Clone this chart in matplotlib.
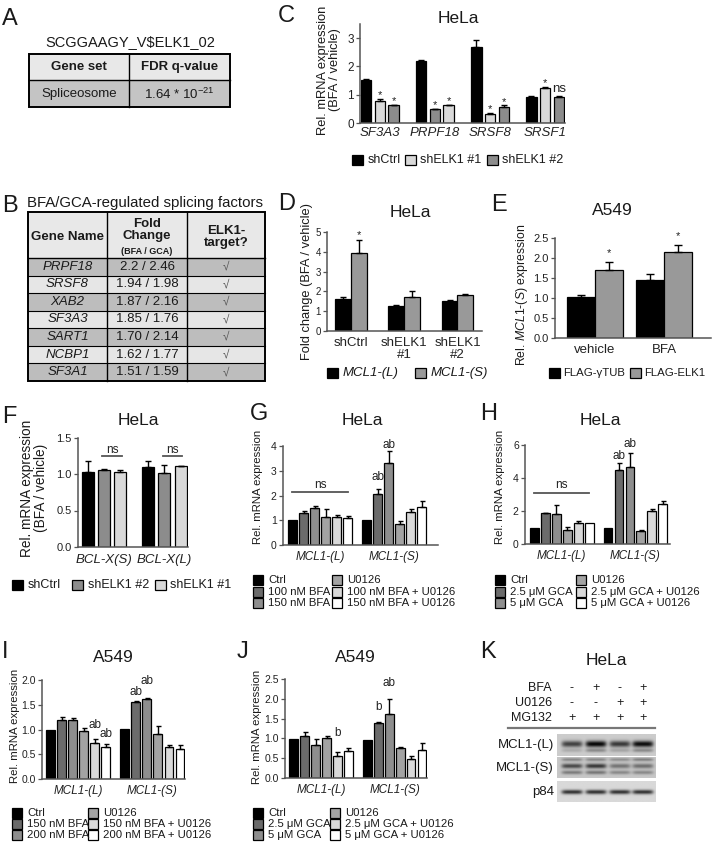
import numpy as np
import matplotlib
matplotlib.use('Agg')
import matplotlib.pyplot as plt
from matplotlib.patches import Rectangle

plt.rcParams['font.family'] = ['Liberation Sans', 'DejaVu Sans']
plt.rcParams['mathtext.fontset'] = 'custom'
plt.rcParams['mathtext.rm'] = 'Liberation Sans'
plt.rcParams['mathtext.it'] = 'Liberation Sans:italic'
plt.rcParams['mathtext.bf'] = 'Liberation Sans:bold'

# ------------------------------------------------------------------ data
# Panel A
a_title = r"SCGGAAGY_V\$ELK1_02"
a_header = ["Gene set", "FDR q-value"]
a_row = ["Spliceosome", r"1.64 * 10$^{-21}$"]

# Panel B
b_title = "BFA/GCA-regulated splicing factors"
b_genes = ["PRPF18", "SRSF8", "XAB2", "SF3A3", "SART1", "NCBP1", "SF3A1"]
b_fold = ["2.2 / 2.46", "1.94 / 1.98", "1.87 / 2.16", "1.85 / 1.76",
          "1.70 / 2.14", "1.62 / 1.77", "1.51 / 1.59"]
b_target = ["\u221a"] * 7

# Panel C
c_genes = ["SF3A3", "PRPF18", "SRSF8", "SRSF1"]
c_series = ["shCtrl", "shELK1 #1", "shELK1 #2"]
c_shctrl = [1.52, 2.19, 2.68, 0.93]
c_shctrl_err = [0.02, 0.05, 0.27, 0.02]
c_sh1 = [0.78, 0.63, 0.32, 1.22]
c_sh1_err = [0.08, 0.02, 0.03, 0.05]
c_sh2 = [0.62, 0.48, 0.57, 0.93]
c_sh2_err = [0.02, 0.02, 0.05, 0.02]
c_order = [[0, 1, 2], [0, 2, 1], [0, 1, 2], [0, 1, 2]]
c_marks_sh1 = ["*", "*", "*", "*"]
c_marks_sh2 = ["*", "*", "*", "ns"]

# Panel D
d_groups = ["shCtrl", "shELK1\n#1", "shELK1\n#2"]
d_series = ["MCL1-(L)", "MCL1-(S)"]
d_L = [1.63, 1.25, 1.50]
d_L_err = [0.07, 0.05, 0.07]
d_S = [3.95, 1.72, 1.80]
d_S_err = [0.65, 0.28, 0.05]
d_marks_S = ["*", "", ""]

# Panel E
e_groups = ["vehicle", "BFA"]
e_series = ["FLAG-\u03b3TUB", "FLAG-ELK1"]
e_tub = [1.03, 1.46]
e_tub_err = [0.04, 0.13]
e_elk = [1.70, 2.15]
e_elk_err = [0.20, 0.17]
e_marks_elk = ["*", "*"]

# Panel F
f_groups = ["BCL-X(S)", "BCL-X(L)"]
f_series = ["shCtrl", "shELK1 #2", "shELK1 #1"]
f_ctrl = [1.03, 1.09]
f_ctrl_err = [0.15, 0.09]
f_sh2 = [1.06, 1.02]
f_sh2_err = [0.01, 0.10]
f_sh1 = [1.03, 1.11]
f_sh1_err = [0.03, 0.005]
f_ns_level = 1.24

# Panels G-J
iso_groups = ["MCL1-(L)", "MCL1-(S)"]
g_series = ["Ctrl", "100 nM BFA", "150 nM BFA", "U0126",
            "100 nM BFA + U0126", "150 nM BFA + U0126"]
g_L = [1.00, 1.30, 1.50, 1.14, 1.13, 1.10]
g_L_err = [0, 0.08, 0.08, 0.30, 0.07, 0.07]
g_S = [1.00, 2.05, 3.32, 0.85, 1.35, 1.55]
g_S_err = [0, 0.20, 0.47, 0.12, 0.09, 0.22]
g_marks = [(1, 1, "ab"), (1, 2, "ab")]
g_ns_level = 2.15

h_series = ["Ctrl", "2.5 \u03bcM GCA", "5 \u03bcM GCA", "U0126",
            "2.5 \u03bcM GCA + U0126", "5 \u03bcM GCA + U0126"]
h_L = [1.00, 1.86, 1.80, 0.85, 1.25, 1.25]
h_L_err = [0, 0.04, 0.56, 0.16, 0.12, 0.0]
h_S = [1.00, 4.48, 4.69, 0.79, 2.02, 2.42]
h_S_err = [0, 0.41, 0.81, 0.06, 0.08, 0.20]
h_marks = [(1, 1, "ab"), (1, 2, "ab")]
h_ns_level = 3.11

i_series = ["Ctrl", "150 nM BFA", "200 nM BFA", "U0126",
            "150 nM BFA + U0126", "200 nM BFA + U0126"]
i_L = [0.99, 1.19, 1.20, 0.96, 0.73, 0.65]
i_L_err = [0, 0.07, 0.03, 0.07, 0.08, 0.06]
i_S = [1.01, 1.55, 1.61, 0.90, 0.65, 0.61]
i_S_err = [0, 0.02, 0.02, 0.17, 0.03, 0.08]
i_marks = [(0, 4, "ab"), (0, 5, "ab"), (1, 1, "ab"), (1, 2, "ab")]

j_series = h_series
j_L = [0.99, 1.07, 0.84, 1.01, 0.56, 0.69]
j_L_err = [0, 0.10, 0.14, 0.04, 0.09, 0.08]
j_S = [0.96, 1.38, 1.62, 0.76, 0.47, 0.70]
j_S_err = [0, 0.03, 0.37, 0.02, 0.08, 0.18]
j_marks = [(0, 4, "b"), (1, 1, "b"), (1, 2, "ab")]

# Panel K (western blot)
k_rows = ["BFA", "U0126", "MG132"]
k_bfa = ["-", "+", "-", "+"]
k_u0126 = ["-", "-", "+", "+"]
k_mg132 = ["+", "+", "+", "+"]
k_blots = ["MCL1-(L)", "MCL1-(S)", "p84"]
k_L_main = [0.55, 0.78, 0.58, 0.76]
k_L_low = [0.12, 0.25, 0.15, 0.25]
k_S_up = [0.25, 0.25, 0.22, 0.28]
k_S_main = [0.50, 0.57, 0.33, 0.35]
k_S_low = [0.30, 0.32, 0.25, 0.25]
k_p84 = [0.66, 0.66, 0.66, 0.66]

# ------------------------------------------------------------------ styles
W, H = 712, 844
fig = plt.figure(figsize=(W / 100, H / 100), dpi=100)
AX_COL = '#555555'
six_colors = ['#000000', '#6b6b6b', '#8e8e8e', '#a3a3a3', '#d9d9d9', '#ffffff']
LIGHT, MID = '#d9d9d9', '#8c8c8c'


def add_ax(l, r, y0, ytop):
    return fig.add_axes([l / W, 1 - y0 / H, (r - l) / W, (y0 - ytop) / H])


def style_ax(ax, xlim, ylim, yticks, fmt=None, tfs=7.5):
    ax.set_xlim(*xlim)
    ax.set_ylim(*ylim)
    for s in ['top', 'right']:
        ax.spines[s].set_visible(False)
    for s in ['left', 'bottom']:
        ax.spines[s].set_color(AX_COL)
        ax.spines[s].set_linewidth(1.1)
    ax.set_yticks(yticks)
    if fmt:
        ax.set_yticklabels([fmt.format(t) for t in yticks])
    ax.tick_params(axis='y', direction='out', length=3, width=0.9,
                   color=AX_COL, labelsize=tfs, pad=1.5, labelcolor='#222222')
    ax.tick_params(axis='x', length=0, labelsize=9, labelcolor='#222222')
    ax.patch.set_alpha(0)


def bar_err(ax, x, v, e, color, width, cs):
    ax.bar(x, v, width, color=color, edgecolor='k', linewidth=0.9, zorder=2)
    if e > 0:
        ax.errorbar([x], [v], yerr=[[0], [e]], fmt='none', ecolor='k',
                    elinewidth=1.0, capsize=cs, capthick=1.0, zorder=3)


def mark(ax, x, ytop, txt, off, fs=8):
    ax.annotate(txt, (x, ytop), xytext=(0, off), textcoords='offset points',
                ha='center', va='baseline', fontsize=fs, color='#222222',
                annotation_clip=False)


def six_panel(ax, L, Le, S, Se, marks, offs, ns_level=None, ns_off=2.5):
    offsets = [(k - 2.5) * 0.149 for k in range(6)]
    vals = [L, S]
    errs = [Le, Se]
    for g in range(2):
        for k in range(6):
            bar_err(ax, g + offsets[k], vals[g][k], errs[g][k], six_colors[k], 0.12, 1.8)
    for (g, k, txt), off in zip(marks, offs):
        mark(ax, g + offsets[k], vals[g][k] + errs[g][k], txt, off, fs=8.5)
    if ns_level is not None:
        ax.plot([offsets[0], offsets[5]], [ns_level, ns_level], color=AX_COL,
                lw=1.3, clip_on=False)
        mark(ax, 0, ns_level, "ns", ns_off, fs=8.5)
    ax.set_xticks([0, 1])
    ax.set_xticklabels(iso_groups, fontstyle='italic', fontsize=8.5)
    ax.tick_params(axis='x', pad=4)


# ------------------------------------------------------------------ C
axC = add_ax(360, 565, 123, 24)
c_vals = [c_shctrl, c_sh1, c_sh2]
c_errs = [c_shctrl_err, c_sh1_err, c_sh2_err]
c_cols = ['#000000', LIGHT, MID]
c_marks = [None, c_marks_sh1, c_marks_sh2]
c_off = [-0.25, 0.0, 0.25]
for g in range(len(c_genes)):
    for pos, s in enumerate(c_order[g]):
        x = g + c_off[pos]
        bar_err(axC, x, c_vals[s][g], c_errs[s][g], c_cols[s], 0.19, 2.5)
        if c_marks[s] is not None:
            m = c_marks[s][g]
            mark(axC, x, c_vals[s][g] + c_errs[s][g], m,
                 3.0 if m == "ns" else 0.5, fs=9.5 if m == "ns" else 8)
style_ax(axC, (-0.36, 3.36), (0, 3.5), [0, 1, 2, 3], tfs=8.5)
axC.set_xticks(range(len(c_genes)))
axC.set_xticklabels(c_genes, fontstyle='italic', fontsize=9.5)
axC.tick_params(axis='x', pad=3)

# ------------------------------------------------------------------ D
axD = add_ax(327, 482, 331, 232)
for g in range(3):
    bar_err(axD, g - 0.15, d_L[g], d_L_err[g], '#000000', 0.3, 2.5)
    bar_err(axD, g + 0.15, d_S[g], d_S_err[g], '#999999', 0.3, 2.5)
    if d_marks_S[g]:
        mark(axD, g + 0.15, d_S[g] + d_S_err[g], d_marks_S[g], 1.0)
style_ax(axD, (-0.45, 2.46), (0, 5), [0, 1, 2, 3, 4, 5], tfs=7)
axD.set_xticks(range(3))
axD.set_xticklabels(d_groups, linespacing=1.1, fontsize=9.5)
axD.tick_params(axis='x', pad=4)

# ------------------------------------------------------------------ E
axE = add_ax(555, 711, 338, 238)
for g in range(2):
    bar_err(axE, g - 0.2, e_tub[g], e_tub_err[g], '#000000', 0.4, 3)
    bar_err(axE, g + 0.2, e_elk[g], e_elk_err[g], '#999999', 0.4, 3)
    if e_marks_elk[g]:
        mark(axE, g + 0.2, e_elk[g] + e_elk_err[g], e_marks_elk[g], 4.2)
style_ax(axE, (-0.57, 1.67), (0, 2.5), [0, 0.5, 1.0, 1.5, 2.0, 2.5], "{:.1f}", tfs=8)
axE.set_xticks(range(2))
axE.set_xticklabels(e_groups, fontsize=9.5)
axE.tick_params(axis='x', pad=4)

# ------------------------------------------------------------------ F
axF = add_ax(78, 188, 547, 437.5)
f_vals = [f_ctrl, f_sh2, f_sh1]
f_errs = [f_ctrl_err, f_sh2_err, f_sh1_err]
f_cols = ['#000000', MID, LIGHT]
f_off = [-0.267, 0.0, 0.267]
for g in range(2):
    for s in range(3):
        bar_err(axF, g + f_off[s], f_vals[s][g], f_errs[s][g], f_cols[s], 0.2, 2.5)
    axF.plot([g + f_off[1] - 0.03, g + f_off[2] + 0.03], [f_ns_level] * 2,
             color=AX_COL, lw=1.3, clip_on=False)
    mark(axF, g + (f_off[1] + f_off[2]) / 2, f_ns_level, "ns", 2.2, fs=8.5)
style_ax(axF, (-0.43, 1.39), (0, 1.5), [0, 0.5, 1.0, 1.5], "{:.1f}", tfs=8)
axF.set_xticks(range(2))
axF.set_xticklabels(f_groups, fontstyle='italic', fontsize=9.5)
axF.tick_params(axis='x', pad=5)

# ------------------------------------------------------------------ G, H, I, J
axG = add_ax(283, 438, 545, 446)
style_ax(axG, (-0.5, 1.59), (0, 4), [0, 1, 2, 3, 4])
six_panel(axG, g_L, g_L_err, g_S, g_S_err, g_marks, [6.5, 2.0], g_ns_level, 3.0)

axH = add_ax(525, 670, 544, 445)
style_ax(axH, (-0.5, 1.47), (0, 6), [0, 2, 4, 6])
six_panel(axH, h_L, h_L_err, h_S, h_S_err, h_marks, [3.0, 4.3], h_ns_level, 3.2)

axI = add_ax(42, 185, 779, 680)
style_ax(axI, (-0.49, 1.44), (0, 2.0), [0, 0.5, 1.0, 1.5, 2.0], "{:.1f}")
six_panel(axI, i_L, i_L_err, i_S, i_S_err, i_marks, [8.0, 5.0, 4.3, 10.0])

axJ = add_ax(285, 427, 778, 679)
style_ax(axJ, (-0.49, 1.44), (0, 2.5), [0, 0.5, 1.0, 1.5, 2.0, 2.5], "{:.1f}")
six_panel(axJ, j_L, j_L_err, j_S, j_S_err, j_marks, [12.0, 8.6, 9.4])

# ------------------------------------------------------------------ overlay (pixel coords)
ov = fig.add_axes([0, 0, 1, 1])
ov.set_xlim(0, W)
ov.set_ylim(H, 0)
ov.axis('off')
TXT = '#1a1a1a'

# panel letters
for lab, x, y in [("A", 2, 25), ("C", 278, 22), ("B", 2, 212), ("D", 278, 210),
                  ("E", 491, 211), ("F", 2, 423), ("G", 250, 420), ("H", 480, 420),
                  ("I", 2, 658), ("J", 237, 658), ("K", 480, 658)]:
    ov.text(x, y, lab, fontsize=17, ha='left', va='baseline', color=TXT)

# titles
for t, x, y in [("HeLa", 458, 23), ("HeLa", 410, 217), ("A549", 612, 215),
                ("HeLa", 138, 425), ("HeLa", 362, 425), ("HeLa", 600, 425),
                ("A549", 113, 662), ("A549", 355, 662), ("HeLa", 606, 665)]:
    ov.text(x, y, t, fontsize=12.5, ha='center', va='baseline', color=TXT)

# y labels
for t, x, y, fs in [("Rel. mRNA expression\n(BFA / vehicle)", 329, 70, 9.3),
                    ("Fold change (BFA / vehicle)", 307, 281, 9.3),
                    (r"Rel. $\mathit{MCL1}$-$\mathit{(S)}$ expression", 522, 295, 8.8),
                    ("Rel. mRNA expression\n(BFA / vehicle)", 34, 488, 9.8),
                    ("Rel. mRNA expression", 258, 487, 8.2),
                    ("Rel. mRNA expression", 500, 487, 8.2),
                    ("Rel. mRNA expression", 15, 726, 8.2),
                    ("Rel. mRNA expression", 257, 727, 8.2)]:
    ov.text(x, y, t, fontsize=fs, rotation=90, ha='center', va='center',
            color=TXT, linespacing=1.05)


def legend_row(xs, y, labels, colors, fs=9, size=10.5, gap=5, italic=False):
    for x, lab, c in zip(xs, labels, colors):
        ov.add_patch(Rectangle((x, y - size / 2), size, size, facecolor=c,
                               edgecolor='k', linewidth=0.9))
        ov.text(x + size + gap, y, lab, fontsize=fs, va='center', ha='left',
                color=TXT, fontstyle='italic' if italic else 'normal')


legend_row([352, 405, 487], 160, c_series, ['#000000', LIGHT, MID])
legend_row([327, 415], 373, d_series, ['#000000', '#999999'], italic=True, fs=9.5)
legend_row([549, 630], 373, e_series, ['#000000', '#999999'], fs=8.2, gap=3.5)
legend_row([12, 72, 155], 585, f_series, ['#000000', MID, LIGHT], fs=9)


def legend_six(x1, x2, ys, labels):
    for k in range(3):
        legend_row([x1], ys[k], [labels[k]], [six_colors[k]], fs=8.2, size=10, gap=5)
        legend_row([x2], ys[k], [labels[k + 3]], [six_colors[k + 3]], fs=8.2, size=10, gap=5)


legend_six(253, 332, [580, 592, 603], g_series)
legend_six(495, 576, [580, 592, 603], h_series)
legend_six(12, 88, [813, 824, 835], i_series)
legend_six(253, 330, [813, 824, 835], j_series)

# ---- table A
ov.text(130, 42, a_title, fontsize=10.5, ha='center', va='center', color=TXT)
ax0, ax1, axm = 29, 230, 129
ov.add_patch(Rectangle((ax0, 54), ax1 - ax0, 26, facecolor='#e8e8e8', edgecolor='none'))
ov.add_patch(Rectangle((ax0, 80), ax1 - ax0, 27, facecolor='#c4c4c4', edgecolor='none'))
ov.add_patch(Rectangle((ax0, 54), ax1 - ax0, 53, facecolor='none', edgecolor='k', linewidth=1.4))
ov.plot([ax0, ax1], [80, 80], color='k', lw=1.0)
ov.plot([axm, axm], [54, 107], color='k', lw=1.0)
ov.text((ax0 + axm) / 2, 67, a_header[0], fontsize=9.5, fontweight='bold', ha='center', va='center', color=TXT)
ov.text((axm + ax1) / 2, 67, a_header[1], fontsize=9.5, fontweight='bold', ha='center', va='center', color=TXT)
ov.text((ax0 + axm) / 2, 94, a_row[0], fontsize=9.5, ha='center', va='center', color=TXT)
ov.text((axm + ax1) / 2, 94, a_row[1], fontsize=9.5, ha='center', va='center', color=TXT)

# ---- table B
ov.text(27, 203, b_title, fontsize=10.8, ha='left', va='center', color=TXT)
bx = [28, 107, 187, 265]
by0, byh = 212, 258
rh = (381 - byh) / len(b_genes)
ov.add_patch(Rectangle((bx[0], by0), bx[3] - bx[0], byh - by0, facecolor='#e8e8e8', edgecolor='none'))
for r in range(len(b_genes)):
    top = byh + r * rh
    fc = '#bdbdbd' if r % 2 == 0 else '#e6e6e6'
    ov.add_patch(Rectangle((bx[0], top), bx[3] - bx[0], rh, facecolor=fc, edgecolor='none'))
    ov.plot([bx[0], bx[3]], [top, top], color='k', lw=1.0 if r == 0 else 0.8)
    cy = top + rh / 2
    ov.text((bx[0] + bx[1]) / 2, cy, b_genes[r], fontsize=9.5, fontstyle='italic', ha='center', va='center', color=TXT)
    ov.text((bx[1] + bx[2]) / 2, cy, b_fold[r], fontsize=9.5, ha='center', va='center', color=TXT)
    ov.text((bx[2] + bx[3]) / 2, cy, b_target[r], fontsize=8.5, ha='center', va='center', color='#555555')
for xv in bx[1:3]:
    ov.plot([xv, xv], [by0, 381], color='k', lw=1.0)
ov.add_patch(Rectangle((bx[0], by0), bx[3] - bx[0], 381 - by0, facecolor='none', edgecolor='k', linewidth=1.4))
ov.text((bx[0] + bx[1]) / 2, 237, "Gene Name", fontsize=9.5, fontweight='bold', ha='center', va='center', color=TXT)
ov.text((bx[1] + bx[2]) / 2, 230, "Fold\nChange", fontsize=9.5, fontweight='bold', ha='center', va='center', color=TXT, linespacing=1.05)
ov.text((bx[1] + bx[2]) / 2, 252, "(BFA / GCA)", fontsize=6.5, fontweight='bold', ha='center', va='center', color=TXT)
ov.text((bx[2] + bx[3]) / 2, 237, "ELK1-\ntarget?", fontsize=9.5, fontweight='bold', ha='center', va='center', color=TXT, linespacing=1.1)

# ---- panel K
k_x = [572, 596, 620, 643]
for rname, signs, y in zip(k_rows, [k_bfa, k_u0126, k_mg132], [688, 703, 718]):
    ov.text(552, y, rname, fontsize=9, ha='right', va='center', color=TXT)
    for x, s in zip(k_x, signs):
        ov.text(x, y, s, fontsize=9, ha='center', va='center', color=TXT)
ov.plot([508, 655], [727.5, 727.5], color='#777777', lw=1.6)

bl_x0, bl_x1 = 557, 656
strips = [(734, 756, 0.80, [(744, 3.2, k_L_main), (750.5, 1.8, k_L_low)]),
          (757, 778, 0.78, [(759.5, 1.6, k_S_up), (766, 2.4, k_S_main), (772.5, 1.9, k_S_low)]),
          (781, 802, 0.85, [(792, 2.2, k_p84)])]
for (y0, y1, bg, bands), name in zip(strips, k_blots):
    xs = np.linspace(bl_x0, bl_x1, 300)
    ys = np.linspace(y0, y1, 90)
    X, Y = np.meshgrid(xs, ys)
    img = np.full(X.shape, bg)
    for yc, sy, amps in bands:
        for xc, a in zip(k_x, amps):
            img -= a * np.exp(-((X - xc) / 10.5) ** 6) * np.exp(-((Y - yc) / sy) ** 2)
    img = np.clip(img, 0, 1)
    ov.imshow(img, cmap='gray', vmin=0, vmax=1, extent=(bl_x0, bl_x1, y1, y0),
              aspect='auto', interpolation='bilinear', origin='upper')
    ov.text(554, (y0 + y1) / 2, name, fontsize=9.5, ha='right', va='center', color=TXT)
ov.set_xlim(0, W)
ov.set_ylim(H, 0)

fig.savefig('out.png', dpi=100)
